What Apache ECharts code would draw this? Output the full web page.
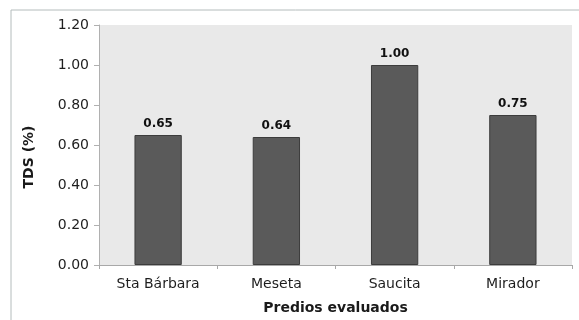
<!DOCTYPE html>
<html>
<head>
<meta charset="utf-8">
<script src="https://cdn.jsdelivr.net/npm/echarts@6/dist/echarts.min.js"></script>
<style>
  html, body { margin: 0; padding: 0; background: #ffffff; }
  #chart { width: 579px; height: 320px; }
</style>
</head>
<body>
<div id="chart"></div>
<script>
// TDS per evaluated farm
const categories = ['Sta Bárbara', 'Meseta', 'Saucita', 'Mirador'];
const tdsValues = [0.65, 0.64, 1.00, 0.75];
const yTicks = { min: 0, max: 1.2, interval: 0.2 };

const FONT = '"DejaVu Sans", "Liberation Sans", Arial, sans-serif';

const chart = echarts.init(document.getElementById('chart'), null, { renderer: 'canvas' });

chart.setOption({
  animation: false,
  backgroundColor: '#ffffff',
  grid: {
    left: 99, right: 7, top: 25, bottom: 52,
    show: true,
    backgroundColor: '#e9e9e9',
    borderWidth: 0
  },
  graphic: [
    {
      type: 'rect',
      shape: { x: 11, y: 10, width: 600, height: 340 },
      style: { fill: 'none', stroke: '#b4bcbc', lineWidth: 1 },
      silent: true,
      z: -1
    },
    {
      type: 'text',
      x: 29, y: 157,
      rotation: Math.PI / 2,
      style: {
        text: 'TDS (%)',
        font: 'bold 14px ' + FONT,
        fill: '#1a1a1a',
        align: 'center',
        verticalAlign: 'middle'
      }
    }
  ],
  xAxis: {
    type: 'category',
    data: categories,
    name: 'Predios evaluados',
    nameLocation: 'middle',
    nameGap: 36,
    nameTextStyle: { fontFamily: FONT, fontSize: 14, fontWeight: 'bold', color: '#1a1a1a' },
    axisLine: { show: true, lineStyle: { color: '#a8a8a8', width: 1 } },
    axisTick: { show: true, length: 4, alignWithLabel: false, lineStyle: { color: '#a8a8a8' } },
    axisLabel: { fontFamily: FONT, fontSize: 14, color: '#1e1e1e', margin: 12 },
    splitLine: { show: false }
  },
  yAxis: {
    type: 'value',
    min: yTicks.min,
    max: yTicks.max,
    interval: yTicks.interval,
    axisLine: { show: true, lineStyle: { color: '#b0b0b0', width: 1 } },
    axisTick: { show: true, length: 5, lineStyle: { color: '#b0b0b0' } },
    axisLabel: {
      fontFamily: FONT, fontSize: 14, color: '#1e1e1e', margin: 10,
      formatter: v => v.toFixed(2)
    },
    splitLine: { show: false }
  },
  series: [{
    type: 'bar',
    data: tdsValues,
    barWidth: '40%',
    itemStyle: { color: '#5a5a5a', borderColor: '#3c3c3c', borderWidth: 1 },
    label: {
      show: true,
      position: 'top',
      distance: 5,
      fontFamily: FONT,
      fontSize: 12,
      fontWeight: 'bold',
      color: '#111111',
      formatter: p => p.value.toFixed(2)
    }
  }]
});
</script>
</body>
</html>
